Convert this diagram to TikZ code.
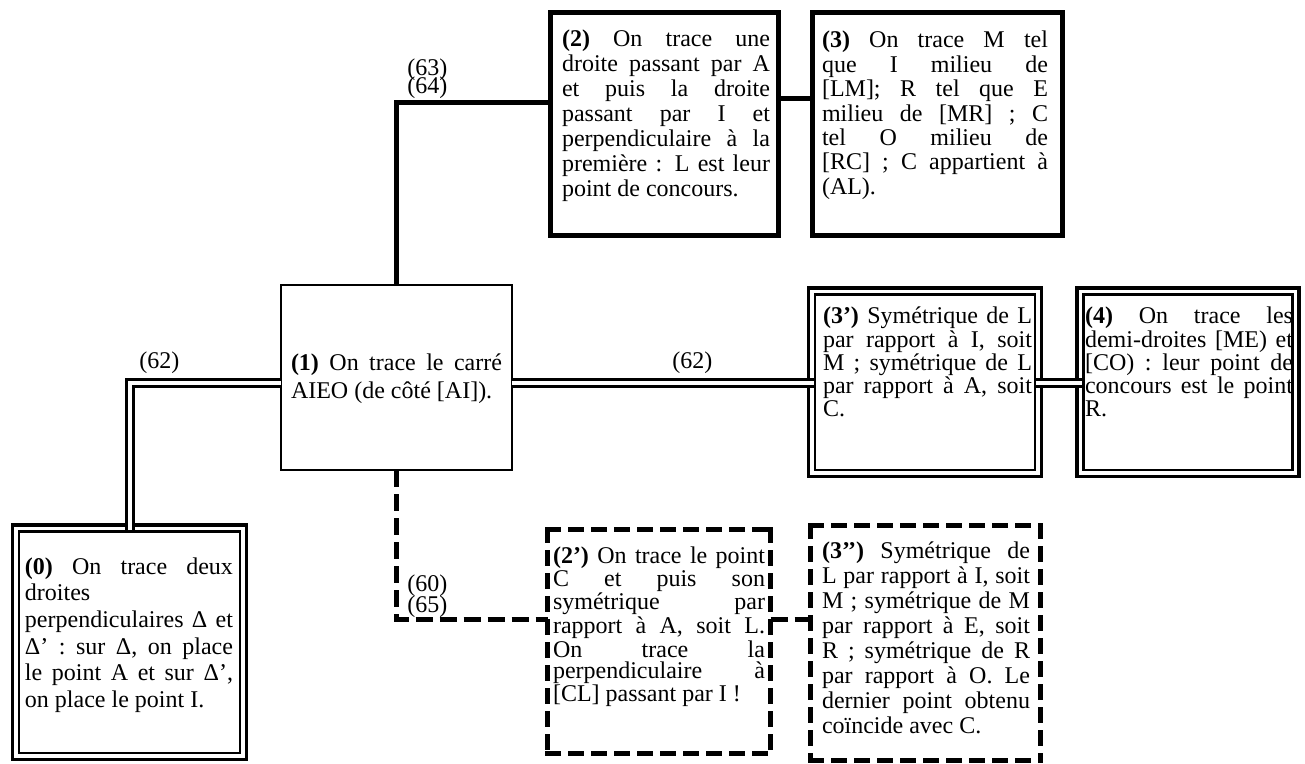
\documentclass[tikz,border=0pt]{standalone}
\usepackage{fontspec}
\setmainfont{Liberation Serif}
\hyphenpenalty=10000
\exhyphenpenalty=10000
\tolerance=10000
\hbadness=10000
\newcommand\brk{\linebreak[4]}
\begin{document}
\begin{tikzpicture}[x=0.5pt,y=-0.5pt,
  thinbox/.style={draw, line width=0.75pt, outer sep=0pt, inner sep=0pt},
  thickbox/.style={draw, line width=2.5pt, outer sep=0pt, inner sep=0pt},
  dblbox/.style={draw, line width=1.75pt, outer sep=0pt, inner sep=0pt},
  dashframe/.style={draw=none, outer sep=0pt, inner sep=0pt},
  dashside/.style={line width=2.5pt, line cap=rect, dash pattern=on 5.5pt off 6pt},
  innerline/.style={line width=1.25pt},
  thickc/.style={line width=2.5pt},
  dblc/.style={line width=1.5pt, double, double distance=2pt},
  dashc/.style={line width=2.5pt, dash pattern=on 8.5pt off 3.5pt},
  txt/.style={anchor=base west, inner sep=0pt, outer sep=0pt, align=justify},
  lbl/.style={anchor=base west, inner sep=0pt, font=\fontsize{12pt}{13pt}\selectfont},
]
\useasboundingbox (0,0) rectangle (1305,764);

% ---------- boxes ----------
\node[dblbox, minimum width=117pt, minimum height=117.25pt] (b0) at (129.5,642.25) {};
\draw[innerline] ([shift={(3.25pt,-3.25pt)}]b0.north west) rectangle ([shift={(-3.25pt,3.25pt)}]b0.south east);

\node[thinbox, minimum width=115.5pt, minimum height=92.5pt] (b1) at (396.5,377.5) {};

\node[thickbox, minimum width=114pt, minimum height=111.5pt] (b2) at (664,124) {};
\node[thickbox, minimum width=124.75pt, minimum height=111.5pt] (b3) at (937.25,124) {};

\node[dblbox, minimum width=116.5pt, minimum height=94.25pt] (b3p) at (925,382.25) {};
\draw[innerline] ([shift={(3.25pt,-3.25pt)}]b3p.north west) rectangle ([shift={(-3.25pt,3.25pt)}]b3p.south east);

\node[dblbox, minimum width=111pt, minimum height=94.25pt] (b4) at (1188,382.25) {};
\draw[innerline] ([shift={(3.25pt,-3.25pt)}]b4.north west) rectangle ([shift={(-3.25pt,3.25pt)}]b4.south east);

\node[dashframe, minimum width=111.5pt, minimum height=112pt] (b2p) at (659,641.5) {};
\draw[dashside] (b2p.north west) -- (b2p.north east);
\draw[dashside] (b2p.north east) -- (b2p.south east);
\draw[dashside] (b2p.north west) -- (b2p.south west);
\draw[dashside] (b2p.south west) -- (b2p.south east);

\node[dashframe, minimum width=115pt, minimum height=117.5pt] (b3pp) at (925.5,643) {};
\draw[dashside] (b3pp.north west) -- (b3pp.north east);
\draw[dashside] (b3pp.north east) -- (b3pp.south east);
\draw[dashside] (b3pp.north west) -- (b3pp.south west);
\draw[dashside] (b3pp.south west) -- (b3pp.south east);

% ---------- texts ----------
\node[txt, text width=104pt, font=\fontsize{12pt}{13.35pt}\selectfont] (t0) at (25,574)
 {\textbf{(0)} On trace deux\brk droites\newline perpendiculaires Δ et\brk Δ’ : sur Δ, on place\brk le point A et sur Δ’,\brk on place le point I.};

\node[txt, text width=105.5pt, font=\fontsize{12pt}{13.5pt}\selectfont] (t1) at (291,371)
 {\textbf{(1)} On trace le carré\brk AIEO (de côté [AI]).};

\node[txt, text width=104pt, font=\fontsize{12pt}{12.5pt}\selectfont] (t2) at (562,47)
 {\textbf{(2)} On trace une\brk droite passant par A\brk et puis la droite\brk passant par I et\brk perpendiculaire à la\brk première : L est leur\brk point de concours.};

\node[txt, text width=113pt, font=\fontsize{12pt}{12.2pt}\selectfont] (t3) at (822,48)
 {\textbf{(3)} On trace M tel\brk que I milieu de\brk [LM]; R tel que E\brk milieu de [MR] ; C\brk tel O milieu de\brk [RC] ; C appartient à\brk (AL).};

\node[txt, text width=104.5pt, font=\fontsize{12pt}{11.6pt}\selectfont] (t3p) at (823,324)
 {\textbf{(3’)} Symétrique de L\brk par rapport à I, soit\brk M ; symétrique de L\brk par rapport à A, soit\brk C.};

\node[txt, text width=104pt, font=\fontsize{12pt}{11.6pt}\selectfont] (t4) at (1085,324)
 {\textbf{(4)} On trace les\brk demi-droites [ME) et\brk [CO) : leur point de\brk concours est le point\brk R.};

\node[txt, text width=106pt, font=\fontsize{12pt}{10.3pt}\selectfont] (t2p) at (553,563)
 {\textbf{(2’)} On trace le point\brk C et puis son\brk symétrique par\brk rapport à A, soit L.\brk On trace la\brk perpendiculaire à\brk [CL] passant par I !};

\node[txt, text width=104pt, font=\fontsize{12pt}{12.55pt}\selectfont] (t3pp) at (822,558)
 {\textbf{(3’’)} Symétrique de\brk L par rapport à I, soit\brk M ; symétrique de M\brk par rapport à E, soit\brk R ; symétrique de R\brk par rapport à O. Le\brk dernier point obtenu\brk coïncide avec C.};

% ---------- connector helper coordinates ----------
\coordinate (yA) at (0,382.5);
\coordinate (yB) at (0,103);
\coordinate (yC) at (0,98.5);
\coordinate (yD) at (0,619);
\coordinate (b0in) at ([yshift=-2.6pt]b0.north);
\coordinate (b3pin) at ([xshift=2.6pt]b3p.west);
\coordinate (b3pout) at ([xshift=-2.6pt]b3p.east);
\coordinate (b4in) at ([xshift=2.6pt]b4.west);

% ---------- connectors ----------
\draw[dblc] (b0in) |- (b1.west |- yA);
\draw[dblc] (b1.east |- yA) -- (b3pin |- yA);
\draw[dblc] (b3pout |- yA) -- (b4in |- yA);
\draw[thickc] (b1.north) |- (b2.west |- yB);
\draw[thickc] (b2.east |- yC) -- (b3.west |- yC);
\draw[dashc] (b1.south) |- (b2p.west |- yD);
\draw[dashc] (b2p.east |- yD) -- (b3pp.west |- yD);

% ---------- labels ----------
\node[lbl] (l62a) at (139,369) {(62)};
\node[lbl] (l62b) at (672,369) {(62)};
\node[lbl] (l63) at (407,76) {(63)};
\node[lbl] (l64) at (407,94) {(64)};
\node[lbl] (l60) at (407,591) {(60)};
\node[lbl] (l65) at (407,612) {(65)};
\end{tikzpicture}
\end{document}
